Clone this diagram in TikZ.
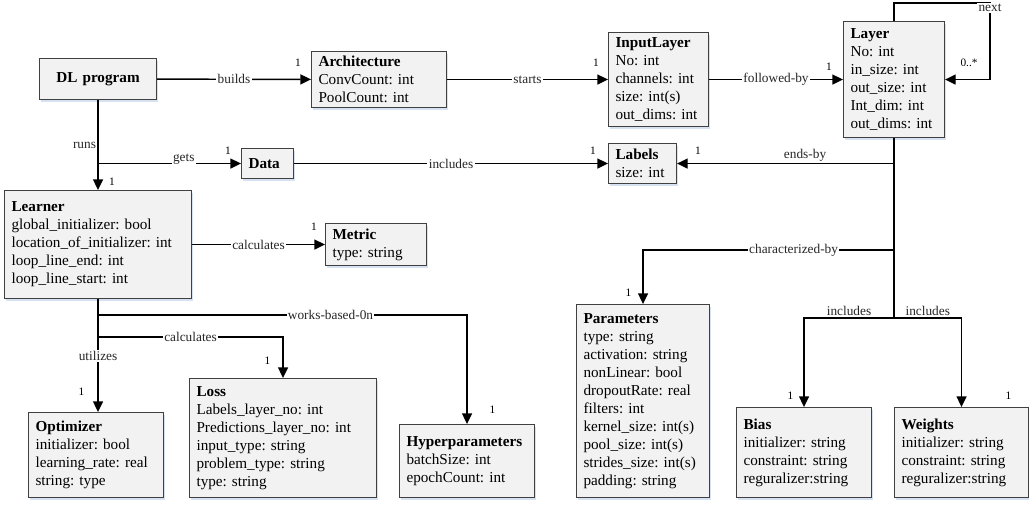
\documentclass[tikz,border=0pt]{standalone}
\usepackage{fontspec}
\setmainfont{Liberation Serif}
\frenchspacing
\usetikzlibrary{arrows.meta,shadows}
\definecolor{boxfill}{RGB}{242,242,242}
\definecolor{boxline}{RGB}{64,64,64}
\definecolor{shade}{RGB}{214,226,242}
\tikzset{
  cls/.style={draw=boxline, fill=boxfill, line width=0.8pt, anchor=north west, align=left,
    inner xsep=5.25pt, inner ysep=0pt, font=\fontsize{11.4}{13.5}\selectfont,
    drop shadow={shadow xshift=1.2pt, shadow yshift=-1.5pt, fill=shade, opacity=1}},
  arr/.style={-{Triangle[length=8pt,width=7.5pt]}, line width=1.1pt},
  lnk/.style={line width=1.1pt},
  lbl/.style={fill=white, inner sep=1pt, font=\fontsize{10}{10}\selectfont, text=black!85},
  mult/.style={inner sep=0pt, font=\fontsize{8.5}{8.5}\selectfont}
}
\begin{document}
\begin{tikzpicture}[x=0.75pt,y=-0.75pt]
\useasboundingbox (0,0) rectangle (1029,504);
\node[cls, text width=77.25pt, minimum height=30.75pt, align=center] (dl) at (39,58) {\textbf{DL program}};
\node[cls, text width=90.75pt, minimum height=42pt] (arch) at (311,51) {\textbf{Architecture}\\ConvCount: int\\PoolCount: int};
\node[cls, text width=64.5pt, minimum height=70.5pt] (inp) at (608,32) {\textbf{InputLayer}\\No: int\\channels: int\\size: int(s)\\out\_dims: int};
\node[cls, text width=65.25pt, minimum height=87pt] (layer) at (843,21) {\textbf{Layer}\\No: int\\in\_size: int\\out\_size: int\\Int\_dim: int\\out\_dims: int};
\node[cls, text width=40.5pt, minimum height=30pt] (labels) at (608,143) {\textbf{Labels}\\size: int};
\node[cls, text width=28.5pt, minimum height=22.5pt] (data) at (241,148) {\textbf{Data}};
\node[cls, text width=129.75pt, minimum height=81pt] (learner) at (4,190) {\textbf{Learner}\\global\_initializer: bool\\location\_of\_initializer: int\\loop\_line\_end: int\\loop\_line\_start: int};
\node[cls, text width=65.25pt, minimum height=31.5pt] (metric) at (325,223) {\textbf{Metric}\\type: string};
\node[cls, text width=90.75pt, minimum height=63.75pt] (opt) at (28,412) {\textbf{Optimizer}\\initializer: bool\\learning\_rate: real\\string: type};
\node[cls, text width=129.75pt, minimum height=89.25pt] (loss) at (189,378) {\textbf{Loss}\\Labels\_layer\_no: int\\Predictions\_layer\_no: int\\input\_type: string\\problem\_type: string\\type: string};
\node[cls, text width=90.75pt, minimum height=54.75pt] (hyp) at (399,424) {\textbf{Hyperparameters}\\batchSize: int\\epochCount: int};
\node[cls, text width=89.25pt, minimum height=144.75pt] (param) at (576,304) {\textbf{Parameters}\\type: string\\activation: string\\nonLinear: bool\\dropoutRate: real\\filters: int\\kernel\_size: int(s)\\pool\_size: int(s)\\strides\_size: int(s)\\padding: string};
\node[cls, text width=90.75pt, minimum height=67.5pt] (bias) at (736,407) {\textbf{Bias}\\initializer: string\\constraint: string\\reguralizer:string};
\node[cls, text width=90pt, minimum height=67.5pt] (weights) at (894,407) {\textbf{Weights}\\initializer: string\\constraint: string\\reguralizer:string};
\coordinate (jg) at (dl.south |- data.west);
\coordinate (jw) at (learner.south |- 0,315);
\coordinate (jc) at (learner.south |- 0,337);
\coordinate (jl) at (layer.south |- 0,318);
\coordinate (jch) at (layer.south |- 0,250);
\coordinate (je) at (layer.south |- labels.east);
\coordinate (nx) at (990,3);
\draw[arr] (dl) -- node[lbl]{builds} (arch);
\draw[arr] (arch) -- node[lbl]{starts} (inp);
\draw[arr] (inp) -- node[lbl]{followed-by} (layer);
\draw[arr] (layer.north) |- (nx) node[lbl, yshift=-3.75pt]{next} |- (layer.east);
\draw[arr] (dl) -- node[lbl, left, fill=none]{runs} (learner);
\draw[arr] (jg) -- node[lbl, pos=0.6, yshift=3pt]{gets} (data);
\draw[arr] (data) -- node[lbl]{includes} (labels);
\draw[lnk] (layer) -- (jl);
\draw[arr] (je) -- node[lbl, above, fill=none, pos=0.41]{ends-by} (labels);
\draw[arr] (jch) -| node[lbl, pos=0.2]{characterized-by} (param);
\draw[arr] (jl) -| node[lbl, above, fill=none, pos=0.25]{includes} (bias);
\draw[arr] (jl) -| node[lbl, above, fill=none, pos=0.25]{includes} (weights);
\draw[arr] (learner) -- node[lbl]{calculates} (metric);
\draw[arr] (learner.south) -- node[lbl]{utilizes} (learner.south |- opt.north);
\draw[arr] (jc) -| node[lbl, pos=0.25]{calculates} (loss);
\draw[arr] (jw) -| node[lbl, pos=0.315]{works-based-0n} (hyp);
\node[mult] (m1) at ([shift={(-13,-17)}]arch.west) {1};
\node[mult] (m2) at ([shift={(-12,-17)}]inp.west) {1};
\node[mult] (m3) at ([shift={(-14,-13)}]layer.west) {1};
\node[mult] (m4) at ([shift={(24,-17)}]layer.east) {0..*};
\node[mult] (m5) at ([shift={(14,-8)}]learner.north) {1};
\node[mult] (m6) at ([shift={(-13,-13)}]data.west) {1};
\node[mult] (m7) at ([shift={(-15,-13)}]labels.west) {1};
\node[mult] (m8) at ([shift={(21,-13)}]labels.east) {1};
\node[mult] (m9) at ([shift={(-11,-18)}]metric.west) {1};
\node[mult] (m10) at ([shift={(-14.5,-20)}]opt.north) {1};
\node[mult] (m11) at ([shift={(-15.5,-17)}]loss.north) {1};
\node[mult] (m12) at ([shift={(25.5,-14)}]hyp.north) {1};
\node[mult] (m13) at ([shift={(-14.5,-11)}]param.north) {1};
\node[mult] (m14) at ([shift={(-13.5,-11)}]bias.north) {1};
\node[mult] (m15) at ([shift={(47,-11)}]weights.north) {1};
\end{tikzpicture}
\end{document}
